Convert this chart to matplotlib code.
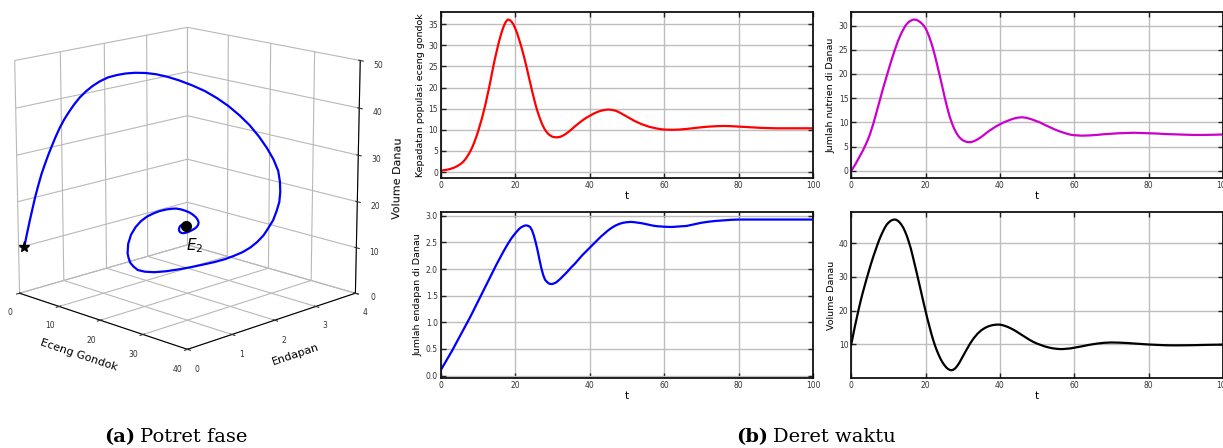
import numpy as np
import matplotlib
matplotlib.use("Agg")
import matplotlib.pyplot as plt

# ---------------- data ----------------
# time samples: every 0.5 up to t=30, then every 1 up to 60, then every 2
t = ([i * 0.5 for i in range(0, 61)] + list(range(31, 61))
     + list(range(62, 101, 2)))

eceng = [0.3, 0.37, 0.45, 0.52, 0.6, 0.72, 0.85, 1.0, 1.2, 1.43,
         1.7, 2.0, 2.4, 2.9, 3.5, 4.2, 5.0, 5.9, 7.0, 8.2,
         9.5, 11.0, 12.5, 14.2, 16.0, 18.0, 20.0, 22.2, 24.5, 26.6,
         28.5, 30.4, 32.0, 33.5, 34.7, 35.6, 36.1, 36.0, 35.6, 35.0,
         34.0, 32.9, 31.5, 30.1, 28.5, 26.8, 25.0, 23.1, 21.2, 19.3,
         17.5, 15.8, 14.3, 13.0, 11.8, 10.8, 10.0, 9.4, 8.9, 8.6,
         8.35,
         8.2, 8.3, 8.7, 9.3, 10.0, 10.8, 11.5, 12.2, 12.8,
         13.3, 13.8, 14.2, 14.5, 14.7, 14.8, 14.7, 14.5, 14.1, 13.6,
         13.1, 12.6, 12.1, 11.7, 11.3, 11.0, 10.7, 10.5, 10.3, 10.15,
         10.05,
         10.0, 10.05, 10.2, 10.4, 10.6, 10.75, 10.85, 10.9, 10.85, 10.75,
         10.65, 10.55, 10.45, 10.4, 10.35, 10.35, 10.35, 10.35, 10.35, 10.35]

nutrien = [0.0, 0.6, 1.2, 1.9, 2.6, 3.3, 4.0, 4.8, 5.6, 6.5,
           7.5, 8.7, 9.9, 11.3, 12.7, 14.1, 15.5, 16.9, 18.2, 19.5,
           20.8, 22.1, 23.3, 24.5, 25.6, 26.7, 27.6, 28.5, 29.2, 29.9,
           30.4, 30.8, 31.0, 31.2, 31.25, 31.2, 31.0, 30.75, 30.4, 30.0,
           29.4, 28.6, 27.6, 26.5, 25.2, 23.8, 22.2, 20.6, 19.0, 17.3,
           15.6, 14.0, 12.5, 11.1, 10.0, 9.0, 8.2, 7.5, 7.0, 6.6,
           6.3,
           5.95, 5.9, 6.1, 6.5, 7.0, 7.6, 8.2, 8.7, 9.2,
           9.6, 10.0, 10.3, 10.6, 10.85, 11.0, 11.05, 10.95, 10.75, 10.5,
           10.2, 9.9, 9.5, 9.15, 8.8, 8.45, 8.15, 7.9, 7.65, 7.45,
           7.35,
           7.25, 7.3, 7.4, 7.55, 7.65, 7.75, 7.8, 7.85, 7.8, 7.75,
           7.7, 7.6, 7.55, 7.5, 7.45, 7.4, 7.4, 7.42, 7.45, 7.5]

endapan = [0.10, 0.16, 0.22, 0.28, 0.34, 0.40, 0.46, 0.525, 0.59, 0.655,
           0.72, 0.785, 0.85, 0.915, 0.98, 1.045, 1.11, 1.18, 1.25, 1.32,
           1.39, 1.46, 1.53, 1.60, 1.67, 1.74, 1.81, 1.88, 1.95, 2.02,
           2.09, 2.155, 2.22, 2.285, 2.35, 2.41, 2.47, 2.525, 2.58, 2.625,
           2.67, 2.71, 2.75, 2.78, 2.80, 2.815, 2.82, 2.81, 2.79, 2.73,
           2.63, 2.50, 2.35, 2.18, 2.02, 1.89, 1.80, 1.76, 1.73, 1.72,
           1.72,
           1.75, 1.81, 1.88, 1.95, 2.03, 2.10, 2.18, 2.26, 2.33,
           2.40, 2.47, 2.54, 2.61, 2.67, 2.73, 2.78, 2.82, 2.85, 2.87,
           2.88, 2.885, 2.88, 2.87, 2.86, 2.845, 2.83, 2.815, 2.805, 2.80,
           2.795,
           2.79, 2.80, 2.81, 2.84, 2.87, 2.89, 2.905, 2.915, 2.925, 2.93,
           2.93, 2.93, 2.93, 2.93, 2.93, 2.93, 2.93, 2.93, 2.93, 2.93]

volume = [10.0, 12.8, 15.5, 18.0, 20.5, 22.8, 25.0, 27.0, 29.0, 30.9,
          32.8, 34.6, 36.3, 37.9, 39.5, 41.0, 42.3, 43.5, 44.6, 45.5,
          46.1, 46.6, 46.9, 47.05, 47.0, 46.7, 46.2, 45.5, 44.6, 43.4,
          42.0, 40.3, 38.5, 36.3, 34.0, 31.7, 29.3, 26.9, 24.5, 22.1,
          19.8, 17.5, 15.4, 13.3, 11.4, 9.7, 8.2, 6.9, 5.7, 4.7,
          3.9, 3.2, 2.7, 2.4, 2.3, 2.5, 2.9, 3.6, 4.4, 5.4,
          6.4,
          8.4, 10.3, 11.9, 13.2, 14.2, 14.9, 15.4, 15.7, 15.85,
          15.85, 15.6, 15.2, 14.7, 14.1, 13.4, 12.7, 12.0, 11.3, 10.7,
          10.2, 9.8, 9.4, 9.1, 8.85, 8.7, 8.6, 8.6, 8.7, 8.8,
          9.0,
          9.4, 9.85, 10.2, 10.45, 10.55, 10.5, 10.4, 10.25, 10.1, 9.95,
          9.85, 9.75, 9.7, 9.7, 9.72, 9.75, 9.8, 9.85, 9.88, 9.9]

xticks_t = [0, 20, 40, 60, 80, 100]
ylabels = ["Kepadatan populasi eceng gondok", "Jumlah nutrien di Danau",
           "Jumlah endapan di Danau", "Volume Danau"]

# ---------------- figure ----------------
W, H = 1223, 448
fig = plt.figure(figsize=(W / 100, H / 100), dpi=100)
fig.patch.set_facecolor("white")


def fx(px):
    return px / W


def fy(py):
    return 1 - py / H


# ---------- 3D phase portrait ----------
cx, cy, aw, ah = 182, 184, 455, 405
ax3 = fig.add_axes([fx(cx - aw / 2), fy(cy + ah / 2), aw / W, ah / H],
                   projection="3d")
ax3.set_proj_type("persp")
ax3.view_init(elev=15, azim=-45)
ax3.set_box_aspect((1, 1, 1))
ax3.plot(eceng, endapan, volume, color="blue", lw=1.6)
ax3.plot([eceng[0]], [endapan[0]], [volume[0]], marker="*", color="black",
         markersize=8, linestyle="none")
ax3.plot([eceng[-1]], [endapan[-1]], [volume[-1]], marker="o", color="black",
         markersize=7, linestyle="none")
ax3.text(eceng[-1], endapan[-1], volume[-1] - 5.5, r"$E_2$", fontsize=11)
ax3.set_xlim(0, 40)
ax3.set_ylim(0, 4)
ax3.set_zlim(0, 50)
ax3.set_xticks([0, 10, 20, 30, 40])
ax3.set_yticks([0, 1, 2, 3, 4])
ax3.set_zticks([0, 10, 20, 30, 40, 50])
ax3.set_xlabel("Eceng Gondok", fontsize=8, labelpad=-3)
ax3.set_ylabel("Endapan", fontsize=8, labelpad=-3)
ax3.set_zlabel("Volume Danau", fontsize=8, labelpad=-3)
ax3.tick_params(labelsize=5.5, pad=0, colors="#333333")
for a in (ax3.xaxis, ax3.yaxis, ax3.zaxis):
    a.set_pane_color((1, 1, 1, 0))
    a._axinfo["grid"]["color"] = "#b8b8b8"
    a._axinfo["grid"]["linewidth"] = 0.8
    a.label.set_color("black")

# ---------- 2D time series ----------
boxes = [
    (440.7, 12, 813.3, 178.3),
    (851.3, 12, 1223, 178.3),
    (440.7, 212, 813.3, 377.8),
    (851.3, 212, 1223, 377.8),
]
series = [eceng, nutrien, endapan, volume]
colors = ["red", "#cc00cc", "blue", "black"]

for (x0, y0, x1, y1), ys, c, lab in zip(boxes, series, colors, ylabels):
    ax = fig.add_axes([fx(x0), fy(y1), fx(x1 - x0), (y1 - y0) / H])
    ax.plot(t, ys, color=c, lw=1.6)
    ax.set_xlim(0, 100)
    ax.set_xticks(xticks_t)
    ax.grid(True, color="#bdbdbd", lw=1.0)
    ax.set_axisbelow(True)
    ax.tick_params(direction="in", top=True, right=True, labelsize=5.5,
                   length=3.5, width=1.0, colors="#222222", labelcolor="#333333",
                   pad=2)
    for s in ax.spines.values():
        s.set_linewidth(1.3)
        s.set_color("#111111")
    ax.set_xlabel("t", fontsize=7.5, labelpad=1)
    ax.set_ylabel(lab, fontsize=6.8, labelpad=2)

# ---------- captions ----------
serif = ["DejaVu Serif"]
fig.text(fx(135), fy(437), "(a)", fontsize=14, fontweight="bold",
         family=serif, ha="right", va="center")
fig.text(fx(140), fy(437), "Potret fase", fontsize=14, family=serif,
         ha="left", va="center")
fig.text(fx(768), fy(437), "(b)", fontsize=14, fontweight="bold",
         family=serif, ha="right", va="center")
fig.text(fx(773), fy(437), "Deret waktu", fontsize=14, family=serif,
         ha="left", va="center")

fig.savefig("out.png", dpi=100, facecolor="white")
